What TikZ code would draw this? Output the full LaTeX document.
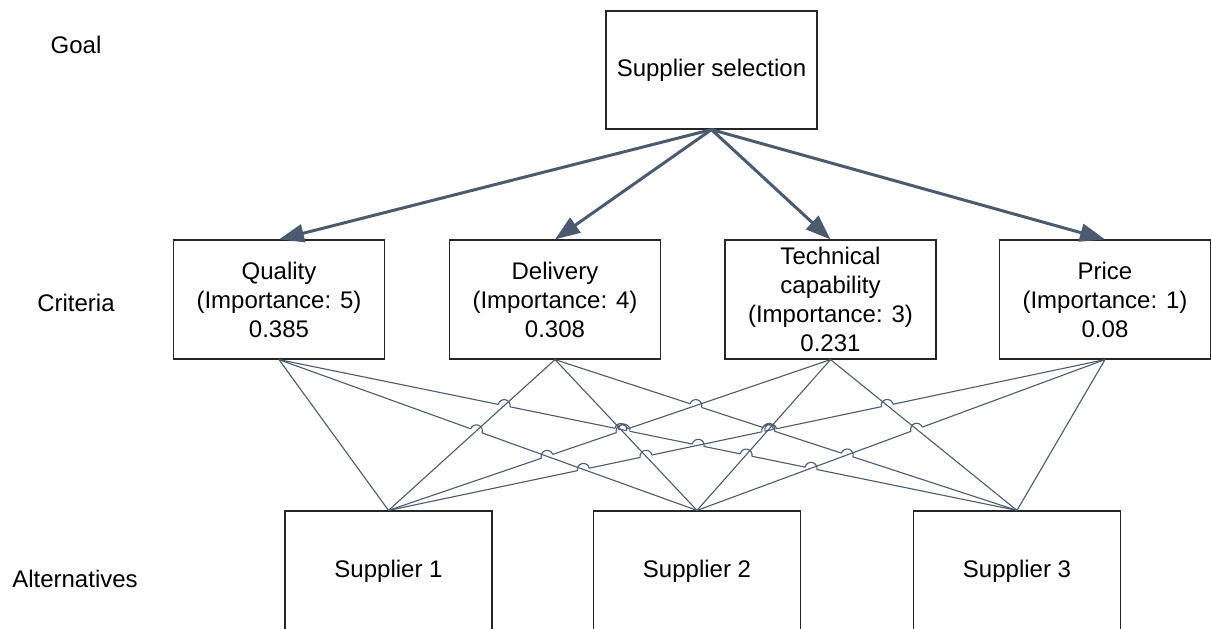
\documentclass[tikz,border=0pt]{standalone}
\usepackage{fontspec}
\setmainfont{Liberation Sans}
\usetikzlibrary{calc,arrows.meta}
\definecolor{conn}{HTML}{4B5A6E}
\newcommand\hopArc[3]{%
  \draw[thinconn] let \p1=($(#3)-(#2)$), \n1={atan2(\y1,\x1)} in
    ($(#1)!3pt!(#2)$) arc[start angle=\n1+180, delta angle=-180, radius=3pt];}
\newcommand\gapLine[3]{%
  \begin{scope}[even odd rule]
    \clip (-50,-50) rectangle (1300,700)
      \foreach \q in {#3}{(\q) circle[radius=3pt]};
    \draw[thinconn] (#1) -- (#2);
  \end{scope}}
\begin{document}
\begin{tikzpicture}[x=0.5pt,y=-0.5pt,
  txt/.style={font=\fontsize{12}{14.5}\selectfont,text=black,align=center,inner sep=0pt},
  box/.style={txt,draw=black!85,line width=0.6pt},
  topbox/.style={box,minimum width=105.5pt,minimum height=59pt},
  critbox/.style={box,minimum width=105.5pt,minimum height=59.5pt},
  altbox/.style={box,minimum width=103.5pt,minimum height=60pt},
  bigarrow/.style={draw=conn,line width=1.5pt,-{Triangle[length=12.5pt,width=9pt]}},
  thinconn/.style={draw=conn,line width=0.55pt}]
\useasboundingbox (0,0) rectangle (1211,628);
% level labels
\node[txt] (lg) at (76,45) {Goal};
\node[txt] (lc) at (76,303) {Criteria};
\node[txt] (la) at (75,579) {Alternatives};
% boxes
\node[topbox] (top) at (711.5,70) {Supplier selection};
\node[critbox] (Q) at (279,299.5) {Quality\\(Importance: 5)\\0.385};
\node[critbox] (D) at (555,299.5) {Delivery\\(Importance: 4)\\0.308};
\node[critbox] (T) at (830.5,299.5) {Technical\\capability\\(Importance: 3)\\0.231};
\node[critbox] (P) at (1105,299.5) {Price\\(Importance: 1)\\0.08};
\node[altbox] (S1) at (388.5,571) {Supplier 1};
\node[altbox] (S2) at (697,571) {Supplier 2};
\node[altbox] (S3) at (1017,571) {Supplier 3};
% arrows
\draw[bigarrow] (top.south) -- (Q.north);
\draw[bigarrow] (top.south) -- (D.north);
\draw[bigarrow] (top.south) -- (T.north);
\draw[bigarrow] (top.south) -- (P.north);
% anchor coordinates
\coordinate (c1) at (Q.south);
\coordinate (c2) at (D.south);
\coordinate (c3) at (T.south);
\coordinate (c4) at (P.south);
\coordinate (s1) at (S1.north);
\coordinate (s2) at (S2.north);
\coordinate (s3) at (S3.north);
% crossings
\coordinate (X1) at (intersection of c1--s2 and c2--s1);
\coordinate (X2) at (intersection of c1--s2 and c3--s1);
\coordinate (X3) at (intersection of c1--s2 and c4--s1);
\coordinate (X4) at (intersection of c1--s3 and c2--s1);
\coordinate (X5) at (intersection of c1--s3 and c3--s1);
\coordinate (X6) at (intersection of c1--s3 and c4--s1);
\coordinate (X7) at (intersection of c1--s3 and c2--s2);
\coordinate (X8) at (intersection of c1--s3 and c3--s2);
\coordinate (X9) at (intersection of c1--s3 and c4--s2);
\coordinate (X10) at (intersection of c2--s2 and c3--s1);
\coordinate (X11) at (intersection of c2--s2 and c4--s1);
\coordinate (X12) at (intersection of c2--s3 and c3--s1);
\coordinate (X13) at (intersection of c2--s3 and c3--s2);
\coordinate (X14) at (intersection of c2--s3 and c4--s1);
\coordinate (X15) at (intersection of c2--s3 and c4--s2);
\coordinate (X16) at (intersection of c3--s2 and c4--s1);
\coordinate (X17) at (intersection of c3--s3 and c4--s1);
\coordinate (X18) at (intersection of c3--s3 and c4--s2);
% lines without hops
\draw[thinconn] (c1) -- (s1);
\draw[thinconn] (c2) -- (s1);
\draw[thinconn] (c2) -- (s2);
\draw[thinconn] (c3) -- (s2);
\draw[thinconn] (c3) -- (s3);
\draw[thinconn] (c4) -- (s3);
% lines with hops
\gapLine{c1}{s2}{X1}
\gapLine{c3}{s1}{X2,X10}
\gapLine{c4}{s1}{X3,X11,X14,X16,X17}
\gapLine{c1}{s3}{X4,X5,X6,X7,X8,X9}
\gapLine{c2}{s3}{X12,X13,X15}
\gapLine{c4}{s2}{X18}
% hop arcs
\hopArc{X1}{c1}{s2}
\hopArc{X2}{s1}{c3}
\hopArc{X10}{s1}{c3}
\foreach \h in {X3,X11,X14,X16,X17}{\hopArc{\h}{s1}{c4}}
\foreach \h in {X4,X5,X6,X7,X8,X9}{\hopArc{\h}{c1}{s3}}
\foreach \h in {X12,X13,X15}{\hopArc{\h}{c2}{s3}}
\hopArc{X18}{s2}{c4}
\end{tikzpicture}
\end{document}
